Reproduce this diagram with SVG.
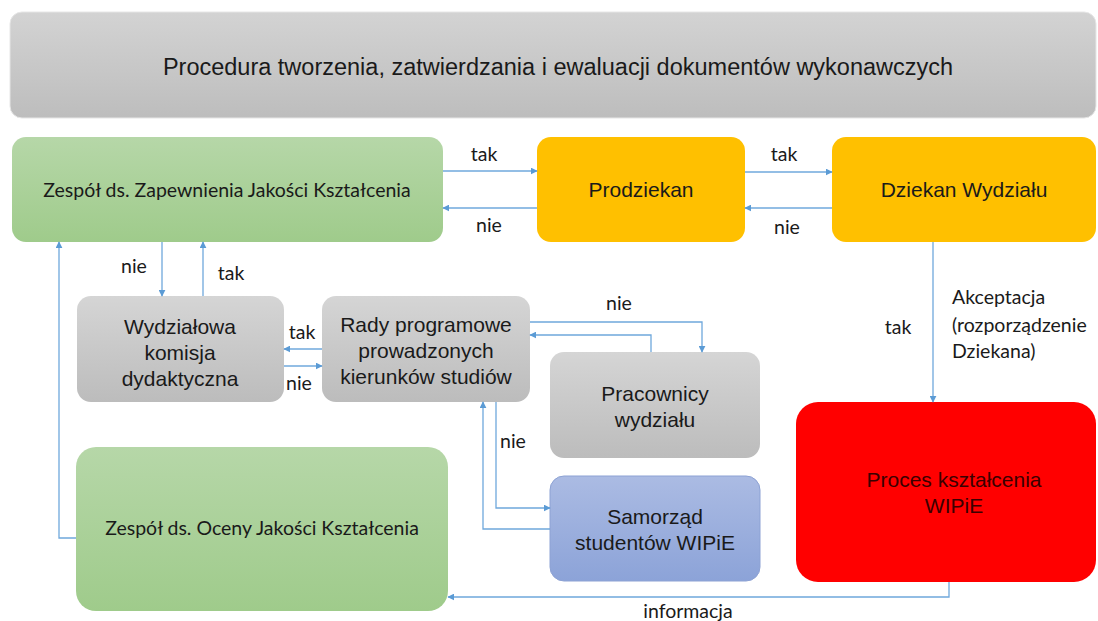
<svg xmlns="http://www.w3.org/2000/svg" width="1098" height="621" viewBox="0 0 1098 621">
<defs>
<linearGradient id="gTitle" x1="0" y1="0" x2="0" y2="1"><stop offset="0" stop-color="#d3d3d3"/><stop offset="1" stop-color="#bdbdbd"/></linearGradient>
<linearGradient id="gGreen" x1="0" y1="0" x2="0" y2="1"><stop offset="0" stop-color="#b6d7a8"/><stop offset="1" stop-color="#9fcb8b"/></linearGradient>
<linearGradient id="gGray" x1="0" y1="0" x2="0" y2="1"><stop offset="0" stop-color="#d5d5d5"/><stop offset="1" stop-color="#bcbcbc"/></linearGradient>
<linearGradient id="gBlue" x1="0" y1="0" x2="0" y2="1"><stop offset="0" stop-color="#abbbe3"/><stop offset="1" stop-color="#8ca3d8"/></linearGradient>
<marker id="arr" viewBox="0 0 10 10" refX="9" refY="5" markerWidth="7" markerHeight="7" markerUnits="userSpaceOnUse" orient="auto"><path d="M0,0 L10,5 L0,10 z" fill="#5b9bd5"/></marker>
<style>
.c{fill:none;stroke:#6fa8dc;stroke-width:1.3;marker-end:url(#arr)}
.cal{font-family:Lato,"Open Sans",sans-serif;fill:#1a1a1a}
.ar{font-family:"Liberation Sans",Arial,sans-serif;fill:#1a1a1a}
.mid{text-anchor:middle}
</style>
</defs>
<rect width="1098" height="621" fill="#ffffff"/>
<g id="title"><rect x="10" y="12" width="1086" height="106" rx="12" fill="url(#gTitle)" stroke="#e6e6e6" stroke-width="1"/>
<text x="558" y="75" class="ar mid" font-size="23.5">Procedura tworzenia, zatwierdzania i ewaluacji dokumentów wykonawczych</text></g>
<g id="zapewnienie"><rect x="12" y="137" width="431" height="105" rx="14" fill="url(#gGreen)"/>
<text x="227" y="197" class="cal mid" font-size="19.5">Zespół ds. Zapewnienia Jakości Kształcenia</text></g>
<g id="prodziekan"><rect x="537" y="137" width="208" height="105" rx="14" fill="#ffc000"/>
<text x="641" y="197" class="ar mid" font-size="21">Prodziekan</text></g>
<g id="dziekan"><rect x="832" y="137" width="264" height="105" rx="14" fill="#ffc000"/>
<text x="964" y="197" class="ar mid" font-size="21">Dziekan Wydziału</text></g>
<g id="komisja"><rect x="77" y="296" width="207" height="106" rx="14" fill="url(#gGray)"/>
<text class="ar mid" font-size="21"><tspan x="180" y="334">Wydziałowa</tspan><tspan x="180" y="360">komisja</tspan><tspan x="180" y="386">dydaktyczna</tspan></text></g>
<g id="rady"><rect x="322" y="296" width="208" height="106" rx="14" fill="url(#gGray)"/>
<text class="ar mid" font-size="21"><tspan x="426" y="332">Rady programowe</tspan><tspan x="426" y="358">prowadzonych</tspan><tspan x="426" y="384">kierunków studiów</tspan></text></g>
<g id="pracownicy"><rect x="550" y="352" width="210" height="106" rx="14" fill="url(#gGray)"/>
<text class="ar mid" font-size="21"><tspan x="655" y="401">Pracownicy</tspan><tspan x="655" y="427">wydziału</tspan></text></g>
<g id="samorzad"><rect x="550" y="476" width="210" height="105" rx="14" fill="url(#gBlue)" stroke="#8da2d4" stroke-width="1"/>
<text class="ar mid" font-size="21"><tspan x="655" y="524">Samorząd</tspan><tspan x="655" y="550">studentów WIPiE</tspan></text></g>
<g id="ocena"><rect x="76" y="447" width="372" height="164" rx="20" fill="url(#gGreen)"/>
<text x="262" y="535" class="cal mid" font-size="19.5">Zespół ds. Oceny Jakości Kształcenia</text></g>
<g id="proces"><rect x="796" y="402" width="300" height="180" rx="22" fill="#ff0000"/>
<text class="ar mid" font-size="21" style="fill:#3a0000"><tspan x="954" y="487">Proces kształcenia</tspan><tspan x="954" y="513">WIPiE</tspan></text></g>
<g id="connectors">
<path class="c" d="M443,171 H537"/>
<path class="c" d="M537,208 H443"/>
<path class="c" d="M745,172 H832"/>
<path class="c" d="M832,208 H745"/>
<path class="c" d="M933,242 V402"/>
<path class="c" d="M949,582 V597 H448"/>
<path class="c" d="M76,538 H59 V242"/>
<path class="c" d="M162,242 V296"/>
<path class="c" d="M203,296 V242"/>
<path class="c" d="M322,349 H284"/>
<path class="c" d="M284,366 H322"/>
<path class="c" d="M530,322 H702 V352"/>
<path class="c" d="M651,352 V335 H530"/>
<path class="c" d="M496,402 V508 H550"/>
<path class="c" d="M550,529 H483 V402"/>
</g>
<g id="labels">
<text x="484" y="161" class="cal mid" font-size="19.5">tak</text>
<text x="489" y="232" class="cal mid" font-size="19.5">nie</text>
<text x="784" y="161" class="cal mid" font-size="19.5">tak</text>
<text x="787" y="234" class="cal mid" font-size="19.5">nie</text>
<text x="134" y="273" class="cal mid" font-size="19.5">nie</text>
<text x="231" y="280" class="cal mid" font-size="19.5">tak</text>
<text x="302" y="339" class="cal mid" font-size="19.5">tak</text>
<text x="299" y="390" class="cal mid" font-size="19.5">nie</text>
<text x="619" y="310" class="cal mid" font-size="19.5">nie</text>
<text x="513" y="448" class="cal mid" font-size="19.5">nie</text>
<text x="898" y="334" class="cal mid" font-size="19.5">tak</text>
<text class="cal" font-size="19.5"><tspan x="952" y="304">Akceptacja</tspan><tspan x="952" y="332">(rozporządzenie</tspan><tspan x="952" y="358">Dziekana)</tspan></text>
<text x="688" y="618" class="cal mid" font-size="19.5">informacja</text>
</g>
</svg>
